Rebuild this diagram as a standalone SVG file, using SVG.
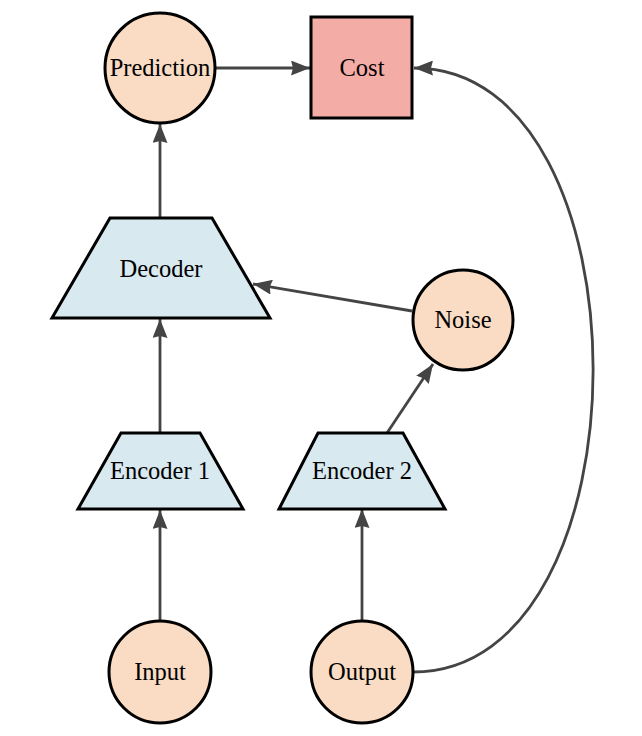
<svg xmlns="http://www.w3.org/2000/svg" width="642" height="736" viewBox="0 0 642 736">
<style>
  .circ { fill: #f9dcc3; stroke: #000; stroke-width: 3; }
  .trap { fill: #d8e9f0; stroke: #000; stroke-width: 3; stroke-linejoin: miter; }
  .box { fill: #f4aca6; stroke: #000; stroke-width: 3; }
  .lbl { font-family: "Liberation Serif", "Times New Roman", serif; font-size: 24.5px; fill: #000; text-anchor: middle; }
  .edge { fill: none; stroke: #444; stroke-width: 2.8; }
</style>
<defs>
  <marker id="arrow" viewBox="0 0 19 15" refX="19" refY="7.5" markerWidth="19" markerHeight="15" markerUnits="userSpaceOnUse" orient="auto">
    <path d="M0,0 L19,7.5 L0,15 L2,7.5 z" fill="#444"/>
  </marker>
</defs>
<g id="connectors">
  <path class="edge" d="M216,68 L310,68" marker-end="url(#arrow)"/>
  <path class="edge" d="M160,218 L160,124" marker-end="url(#arrow)"/>
  <path class="edge" d="M160,433 L160,319" marker-end="url(#arrow)"/>
  <path class="edge" d="M160,620 L160,510" marker-end="url(#arrow)"/>
  <path class="edge" d="M362,620 L362,509" marker-end="url(#arrow)"/>
  <path class="edge" d="M387,433 L433,364" marker-end="url(#arrow)"/>
  <path class="edge" d="M412,311 L253,284" marker-end="url(#arrow)"/>
  <path class="edge" d="M413,672 C653,672 653,68 414,68" marker-end="url(#arrow)"/>
</g>
<g id="prediction">
  <circle class="circ" cx="160" cy="68" r="55"/>
  <text class="lbl" x="160" y="76">Prediction</text>
</g>
<g id="cost">
  <rect class="box" x="311" y="17" width="101" height="101"/>
  <text class="lbl" x="362" y="76">Cost</text>
</g>
<g id="decoder">
  <polygon class="trap" points="110,218 212,218 270,318 52,318"/>
  <text class="lbl" x="161" y="277">Decoder</text>
</g>
<g id="noise">
  <circle class="circ" cx="463" cy="320" r="50"/>
  <text class="lbl" x="463" y="328">Noise</text>
</g>
<g id="encoder1">
  <polygon class="trap" points="121,433 200,433 243,509 78,509"/>
  <text class="lbl" x="160" y="479">Encoder 1</text>
</g>
<g id="encoder2">
  <polygon class="trap" points="318,433 403,433 445,509 279,509"/>
  <text class="lbl" x="362" y="479">Encoder 2</text>
</g>
<g id="input">
  <circle class="circ" cx="160" cy="672" r="51"/>
  <text class="lbl" x="160" y="680">Input</text>
</g>
<g id="output">
  <circle class="circ" cx="362" cy="672" r="51"/>
  <text class="lbl" x="362" y="680">Output</text>
</g>
</svg>
